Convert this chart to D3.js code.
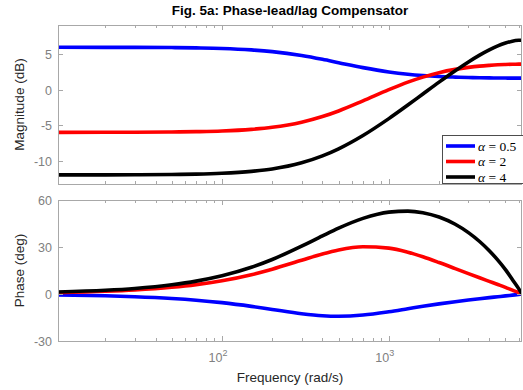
<!DOCTYPE html>
<html>
<head>
<meta charset="utf-8">
<script src="https://cdn.jsdelivr.net/npm/d3@7"></script>
<style>
  body { margin: 0; background: #fff; }
  svg { display: block; }
</style>
</head>
<body>
<div id="chart"></div>
<script>
// frequencies (rad/s) and read-off response values
var freqs = [10, 20, 30, 50, 70, 100, 150, 200, 300, 400, 500, 700, 1000, 1300, 1600, 2000, 2500, 3000, 3500, 4000, 4500, 5000, 5500, 6000, 6283];
var magBlue  = [6.00, 5.99, 5.98, 5.96, 5.91, 5.83, 5.63, 5.39, 4.84, 4.30, 3.83, 3.13, 2.52, 2.20, 2.02, 1.88, 1.79, 1.73, 1.70, 1.68, 1.67, 1.66, 1.65, 1.65, 1.65];
var magRed   = [-6.00, -5.99, -5.98, -5.95, -5.90, -5.81, -5.58, -5.29, -4.57, -3.77, -2.98, -1.56, 0.02, 1.08, 1.79, 2.42, 2.88, 3.16, 3.34, 3.45, 3.53, 3.58, 3.61, 3.62, 3.63];
var magBlack = [-12.00, -11.99, -11.98, -11.94, -11.89, -11.77, -11.50, -11.16, -10.29, -9.32, -8.32, -6.44, -4.06, -2.15, -0.59, 1.08, 2.69, 3.93, 4.89, 5.63, 6.19, 6.59, 6.86, 6.98, 7.00];
var phBlue   = [-0.58, -1.15, -1.72, -2.85, -3.95, -5.53, -7.89, -9.85, -12.56, -13.86, -14.19, -13.44, -11.34, -9.41, -7.87, -6.31, -4.90, -3.84, -3.01, -2.32, -1.74, -1.21, -0.71, -0.26, 0];
var phRed    = [0.87, 1.73, 2.59, 4.31, 5.99, 8.46, 12.34, 15.83, 21.53, 25.52, 28.07, 30.15, 29.28, 26.68, 23.75, 20.09, 16.22, 13.03, 10.37, 8.09, 6.08, 4.25, 2.48, 0.91, 0];
var phBlack  = [1.19, 2.37, 3.55, 5.90, 8.22, 11.62, 17.03, 22.02, 30.53, 37.10, 42.03, 48.27, 52.27, 52.93, 51.91, 49.15, 44.52, 39.17, 33.50, 27.61, 21.63, 15.58, 9.27, 3.44, 0];

var seriesNames = ["0.5", "2", "4"];
var seriesColors = ["#0000ff", "#ff0000", "#000000"];
var magTicks = [-10, -5, 0, 5];
var phaseTicks = [-30, 0, 30, 60];
var xMajor = [100, 1000];

var width = 523, height = 390;
var left = 58, right = 522;
var axisCol = "#a8a8a8", tickTextCol = "#808080";

var svg = d3.select("#chart").append("svg")
  .attr("width", width).attr("height", height)
  .style("font-family", "'Liberation Sans', Arial, sans-serif");

var x = d3.scaleLog().domain([10.4, 6283]).range([left, right]);
var yMag = d3.scaleLinear().domain([-13.28, 9.14]).range([184, 25]);
var yPh = d3.scaleLinear().domain([-30, 60]).range([341, 200]);

// minor ticks for log axis
var minor = [];
[10, 100, 1000].forEach(function(dec) {
  for (var k = 2; k <= 9; k++) {
    var v = k * dec;
    if (v > x.domain()[0] && v < x.domain()[1]) minor.push(v);
  }
});

function drawAxes(id, y, ticks, values, label) {
  var top = y.range()[1], bot = y.range()[0];
  var g = svg.append("g");

  g.append("clipPath").attr("id", "clip" + id)
    .append("rect").attr("x", left).attr("y", top)
    .attr("width", right - left).attr("height", bot - top);

  var plot = g.append("g").attr("clip-path", "url(#clip" + id + ")");
  var line = d3.line()
    .x(function(d, i) { return x(freqs[i]); })
    .y(function(d) { return y(d); })
    .curve(d3.curveMonotoneX);
  values.forEach(function(vals, i) {
    plot.append("path")
      .attr("d", line(vals))
      .attr("fill", "none")
      .attr("stroke", seriesColors[i])
      .attr("stroke-width", 3.6);
  });

  // box
  g.append("rect").attr("x", left + 0.5).attr("y", top + 0.5)
    .attr("width", right - left - 1).attr("height", bot - top)
    .attr("fill", "none").attr("stroke", axisCol).attr("stroke-width", 1);

  // x ticks, bottom and top
  xMajor.forEach(function(v) {
    var px = Math.round(x(v)) + 0.5;
    g.append("line").attr("x1", px).attr("x2", px).attr("y1", bot).attr("y2", bot - 5).attr("stroke", axisCol);
    g.append("line").attr("x1", px).attr("x2", px).attr("y1", top).attr("y2", top + 5).attr("stroke", axisCol);
  });
  minor.forEach(function(v) {
    var px = Math.round(x(v)) + 0.5;
    g.append("line").attr("x1", px).attr("x2", px).attr("y1", bot).attr("y2", bot - 3).attr("stroke", axisCol);
    g.append("line").attr("x1", px).attr("x2", px).attr("y1", top).attr("y2", top + 3).attr("stroke", axisCol);
  });

  // y ticks and labels
  ticks.forEach(function(t) {
    var py = Math.round(y(t)) + 0.5;
    g.append("line").attr("x1", left).attr("x2", left + 5).attr("y1", py).attr("y2", py).attr("stroke", axisCol);
    g.append("line").attr("x1", right).attr("x2", right - 5).attr("y1", py).attr("y2", py).attr("stroke", axisCol);
    g.append("text").attr("x", left - 6).attr("y", py + 4.5)
      .attr("text-anchor", "end").attr("font-size", 12.5)
      .attr("fill", tickTextCol).text(t);
  });

  g.append("text")
    .attr("transform", "translate(24," + ((top + bot) / 2) + ") rotate(-90)")
    .attr("text-anchor", "middle").attr("font-size", 13.5)
    .attr("fill", "#262626").text(label);
  return g;
}

drawAxes("mag", yMag, magTicks, [magBlue, magRed, magBlack], "Magnitude (dB)");
drawAxes("ph", yPh, phaseTicks, [phBlue, phRed, phBlack], "Phase (deg)");

// x tick labels 10^n
xMajor.forEach(function(v) {
  var t = svg.append("text").attr("x", x(v) - 4).attr("y", 362)
    .attr("text-anchor", "middle").attr("font-size", 12.5).attr("fill", tickTextCol);
  t.append("tspan").text("10");
  t.append("tspan").attr("dy", -6).attr("font-size", 9).text(Math.round(Math.log10(v)));
});

svg.append("text").attr("x", (left + right) / 2).attr("y", 382)
  .attr("text-anchor", "middle").attr("font-size", 13.5).attr("fill", "#262626")
  .text("Frequency  (rad/s)");

svg.append("text").attr("x", (left + right) / 2).attr("y", 15)
  .attr("text-anchor", "middle").attr("font-size", 13.5).attr("font-weight", "bold")
  .attr("fill", "#000").text("Fig. 5a: Phase-lead/lag Compensator");

// legend
var lg = svg.append("g");
lg.append("rect").attr("x", 442.5).attr("y", 135.5).attr("width", 82).attr("height", 48)
  .attr("fill", "#fff").attr("stroke", "#4d4d4d").attr("stroke-width", 1);
seriesNames.forEach(function(name, i) {
  var ly = 146 + i * 15.5;
  lg.append("line").attr("x1", 446).attr("x2", 475).attr("y1", ly).attr("y2", ly)
    .attr("stroke", seriesColors[i]).attr("stroke-width", 3.6);
  var t = lg.append("text").attr("x", 478).attr("y", ly + 4.5)
    .attr("font-family", "'Liberation Serif', 'DejaVu Serif', serif").attr("font-size", 13.5).attr("fill", "#000");
  t.append("tspan").attr("font-style", "italic").text("\u03b1");
  t.append("tspan").text(" = " + name);
});
</script>
</body>
</html>
